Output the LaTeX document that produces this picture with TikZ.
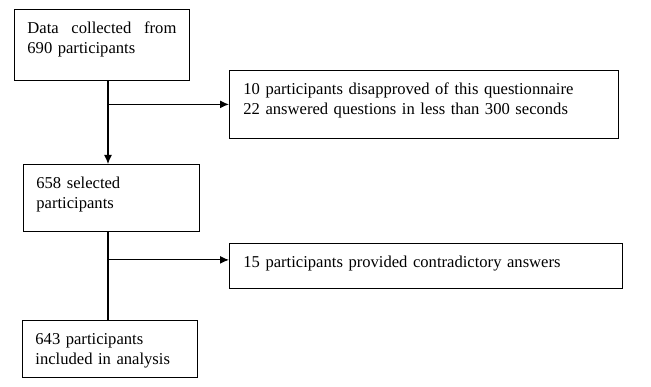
\documentclass[tikz,border=0pt]{standalone}
\usepackage{fontspec}
\setmainfont{Liberation Serif}
\usetikzlibrary{arrows.meta}
\begin{document}
\begin{tikzpicture}[x=1pt,y=-1pt,>={Latex[length=9pt,width=8pt]},thick,main node/.style={draw,line width=0.8pt,anchor=north west,align=left,inner xsep=13pt,inner ysep=12pt,text height=12pt,font=\fontsize{16.6}{20.5}\selectfont},flow line/.style={line width=1.2pt}]
		
		\useasboundingbox (0,0) rectangle (651,387);
		
		\node[main node, style={text width=149pt, text depth=35pt}] (data) at (14,9) {Data\hfill collected\hfill from\\690 participants};
		\node[main node, style={text width=361pt, text depth=32pt, inner xsep=14pt}] (excl1) at (229,70) {10 participants disapproved of this questionnaire\\22 answered questions in less than 300 seconds};
		\node[main node, style={text width=150pt, text depth=31pt}] (sel) at (23,164) {658 selected\\participants};
		\node[main node, style={text width=365pt, text depth=9pt, inner xsep=14pt}] (excl2) at (229,243) {15 participants provided contradictory answers};
		\node[main node, style={text width=149pt, text depth=21pt}] (incl) at (22,320) {643 participants\\included in analysis};
		\coordinate (trunk) at (108,0);
		
		\draw[flow line,->] (data.south -| trunk) -- (sel.north -| trunk);
		\draw[flow line,->] (excl1.west -| trunk) -- (excl1.west);
		\draw[flow line] (sel.south -| trunk) -- (incl.north -| trunk);
		\draw[flow line,->] ([yshift=6pt]excl2.west -| trunk) -- ([yshift=6pt]excl2.west);
		
		\end{tikzpicture}
\end{document}
